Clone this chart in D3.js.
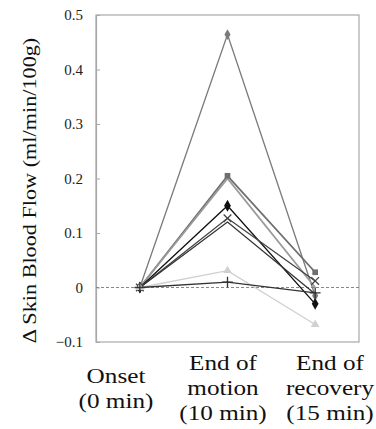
<!DOCTYPE html>
<html>
<head>
<meta charset="utf-8">
<script src="https://cdn.jsdelivr.net/npm/d3@7"></script>
<style>
  body { margin: 0; background: #fff; }
</style>
</head>
<body>
<div id="chart"></div>
<script>
// timepoints and their wrapped labels
const categories = ['onset', 'motion', 'recovery'];
const catLabels = [
  ['Onset', '(0 min)'],
  ['End of', 'motion', '(10 min)'],
  ['End of', 'recovery', '(15 min)']
];
const yTicks = [-0.1, 0, 0.1, 0.2, 0.3, 0.4, 0.5];

// one row per subject: values at onset / end of motion / end of recovery
const s1 = [0, 0.464, -0.015];
const s2 = [0, 0.205, 0.028];
const s3 = [0, 0.200, 0.000];
const s4 = [0, 0.150, -0.030];
const s5 = [0, 0.127, 0.012];
const s6 = [0, 0.120, -0.012];
const s7 = [0, 0.031, -0.068];
const s8 = [0, 0.010, -0.010];

const seriesValues = [s1, s2, s3, s4, s5, s6, s7, s8];
const seriesMarkers = ['diamond', 'square', 'none', 'diamond', 'cross', 'none', 'triangle', 'plus'];
const seriesColors = ['#7a7a7a', '#6e6e6e', '#9a9a9a', '#111111', '#444444', '#333333', '#d0d0d0', '#333333'];

const serif = '"Liberation Serif", "Times New Roman", serif';
const width = 376, height = 429;
const plot = { left: 96, right: 359, top: 15, bottom: 342 };

const svg = d3.select('#chart').append('svg')
  .attr('width', width)
  .attr('height', height)
  .attr('font-family', serif);

const x = d3.scalePoint()
  .domain(categories)
  .range([plot.left, plot.right])
  .padding(0.5);

// category labels sit a bit wider than the points in the original
const xLabel = d3.scalePoint()
  .domain(categories)
  .range([116, 330]);

const y = d3.scaleLinear()
  .domain([-0.1, 0.5])
  .range([plot.bottom, plot.top]);

//@plot frame
svg.append('rect')
  .attr('x', plot.left)
  .attr('y', plot.top)
  .attr('width', plot.right - plot.left)
  .attr('height', plot.bottom - plot.top)
  .attr('fill', 'none')
  .attr('stroke', '#a8a8a8')
  .attr('stroke-width', 1.2);

//@y axis: short inward ticks, labels on the left
const yAxis = d3.axisLeft(y)
  .tickValues(yTicks)
  .tickSizeInner(-4)
  .tickSizeOuter(0)
  .tickPadding(13)
  .tickFormat(d => d === 0 ? '0' : d3.format('.1f')(d));

const gy = svg.append('g')
  .attr('transform', `translate(${plot.left},0)`)
  .call(yAxis)
  .attr('font-family', serif)
  .attr('font-size', 15);
gy.select('.domain').attr('stroke', '#a8a8a8').attr('stroke-width', 1.2);
gy.selectAll('.tick line').attr('stroke', '#a8a8a8');
gy.selectAll('.tick text')
  .attr('font-family', serif)
  .attr('fill', '#222');

//@zero reference
svg.append('line')
  .attr('x1', plot.left)
  .attr('x2', plot.right)
  .attr('y1', y(0))
  .attr('y2', y(0))
  .attr('stroke', '#888')
  .attr('stroke-width', 1.2)
  .attr('stroke-dasharray', '3,2');

//@series lines
const line = d3.line()
  .x((d, i) => x(categories[i]))
  .y(d => y(d));

const g = svg.append('g');
seriesValues.forEach((vals, k) => {
  g.append('path')
    .attr('d', line(vals))
    .attr('fill', 'none')
    .attr('stroke', seriesColors[k])
    .attr('stroke-width', k === 1 || k === 2 ? 1.8 : 1.3);
});

//@markers
const symbolFor = {
  diamond: d3.symbolDiamond,
  square: d3.symbolSquare,
  triangle: d3.symbolTriangle,
  cross: d3.symbolX,
  plus: d3.symbolPlus
};
seriesValues.forEach((vals, k) => {
  const m = seriesMarkers[k];
  if (m === 'none') return;
  const open = m === 'cross' || m === 'plus';
  const sym = d3.symbol().type(symbolFor[m]).size(open ? 40 : (k === 3 ? 40 : 32));
  vals.forEach((v, i) => {
    g.append('path')
      .attr('d', sym())
      .attr('transform', `translate(${x(categories[i])},${y(v)})`)
      .attr('fill', open ? 'none' : seriesColors[k])
      .attr('stroke', open ? seriesColors[k] : 'none')
      .attr('stroke-width', 1.3);
  });
});

//@category labels (stretched serif like the original)
categories.forEach((c, i) => {
  const lines = catLabels[i];
  const lineH = 25;
  const firstY = 370 + (3 - lines.length) * lineH / 2;
  lines.forEach((t, j) => {
    svg.append('text')
      .attr('transform', `translate(${xLabel(c)},${firstY + j * lineH}) scale(1.2,1)`)
      .attr('text-anchor', 'middle')
      .attr('font-family', serif)
      .attr('font-size', 21)
      .attr('fill', '#111')
      .text(t);
  });
});

//@y title
svg.append('text')
  .attr('transform', `translate(36,${(plot.top + plot.bottom) / 2 + 12}) rotate(-90) scale(1.17,1)`)
  .attr('text-anchor', 'middle')
  .attr('font-family', serif)
  .attr('font-size', 19)
  .attr('fill', '#111')
  .text('Δ Skin Blood Flow (ml/min/100g)');
</script>
</body>
</html>
